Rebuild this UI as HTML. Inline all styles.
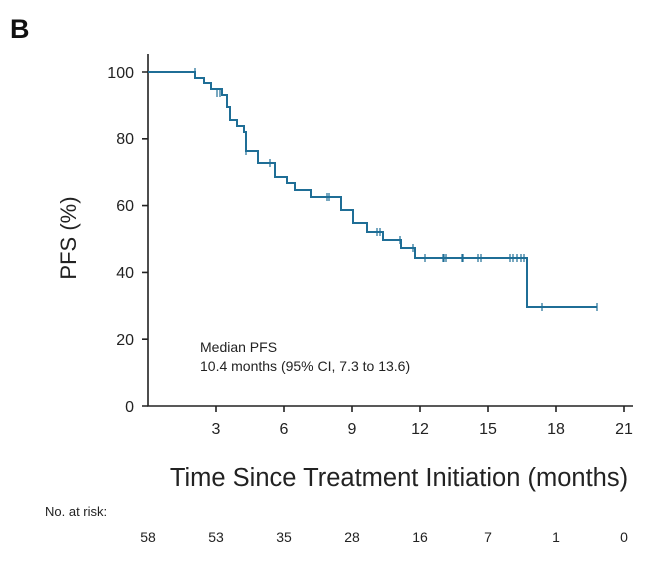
<!DOCTYPE html>
<html><head><meta charset="utf-8"><style>
body{margin:0;background:#fff;}
svg{display:block;font-family:"Liberation Sans",Arial,sans-serif;}
</style></head><body>
<svg width="657" height="564" viewBox="0 0 657 564">
<text x="10" y="38" font-size="27" font-weight="bold" fill="#111">B</text>
<g stroke="#222" stroke-width="1.6" fill="none">
<path d="M148,54 V406 H633"/>
<path d="M142,72H148M142,138.8H148M142,205.6H148M142,272.4H148M142,339.2H148M142,406H148"/>
<path d="M216,406v6M284,406v6M352,406v6M420,406v6M488,406v6M556,406v6M624,406v6"/>
</g>
<g font-size="16" fill="#222" text-anchor="end">
<text x="134" y="78">100</text><text x="134" y="144">80</text><text x="134" y="211">60</text>
<text x="134" y="278">40</text><text x="134" y="345">20</text><text x="134" y="412">0</text>
</g>
<g font-size="16" fill="#222" text-anchor="middle">
<text x="216" y="434">3</text><text x="284" y="434">6</text><text x="352" y="434">9</text>
<text x="420" y="434">12</text><text x="488" y="434">15</text><text x="556" y="434">18</text><text x="624" y="434">21</text>
</g>
<text x="76" y="238" font-size="22" fill="#222" text-anchor="middle" transform="rotate(-90 76 238)">PFS (%)</text>
<text x="399" y="486" font-size="25.5" fill="#222" text-anchor="middle">Time Since Treatment Initiation (months)</text>
<text x="200" y="352" font-size="14" fill="#222">Median PFS</text>
<text x="200" y="371" font-size="14" fill="#222">10.4 months (95% CI, 7.3 to 13.6)</text>
<text x="45" y="516" font-size="13" fill="#222">No. at risk:</text>
<g font-size="14" fill="#222" text-anchor="middle">
<text x="148" y="542">58</text><text x="216" y="542">53</text><text x="284" y="542">35</text><text x="352" y="542">28</text>
<text x="420" y="542">16</text><text x="488" y="542">7</text><text x="556" y="542">1</text><text x="624" y="542">0</text>
</g>
<g stroke="#1f6e96" stroke-width="2" fill="none">
<path d="M148,72H195V78H204V83H211V89H222V95H227V107H230V120H237V126H244V132H246V151H258V163H275V177H287V183H295V190H311V197H341V210H353V223H367V232H383V240H401V248H415V258H527V307H597"/>
<path stroke-width="1.2" d="M195,68v8M217,89v8M220,89v8M246,147v8M270,159v8M327,193v8M329,193v8M377,228v8M380,228v8M400,236v8M413,244v8M425,254v8M443,254v8M444,254v8M446,254v8M462,254v8M463,254v8M478,254v8M481,254v8M510,254v8M513,254v8M517,254v8M521,254v8M524,254v8M542,303v8M597,303v8"/>
</g>
</svg>
</body></html>
